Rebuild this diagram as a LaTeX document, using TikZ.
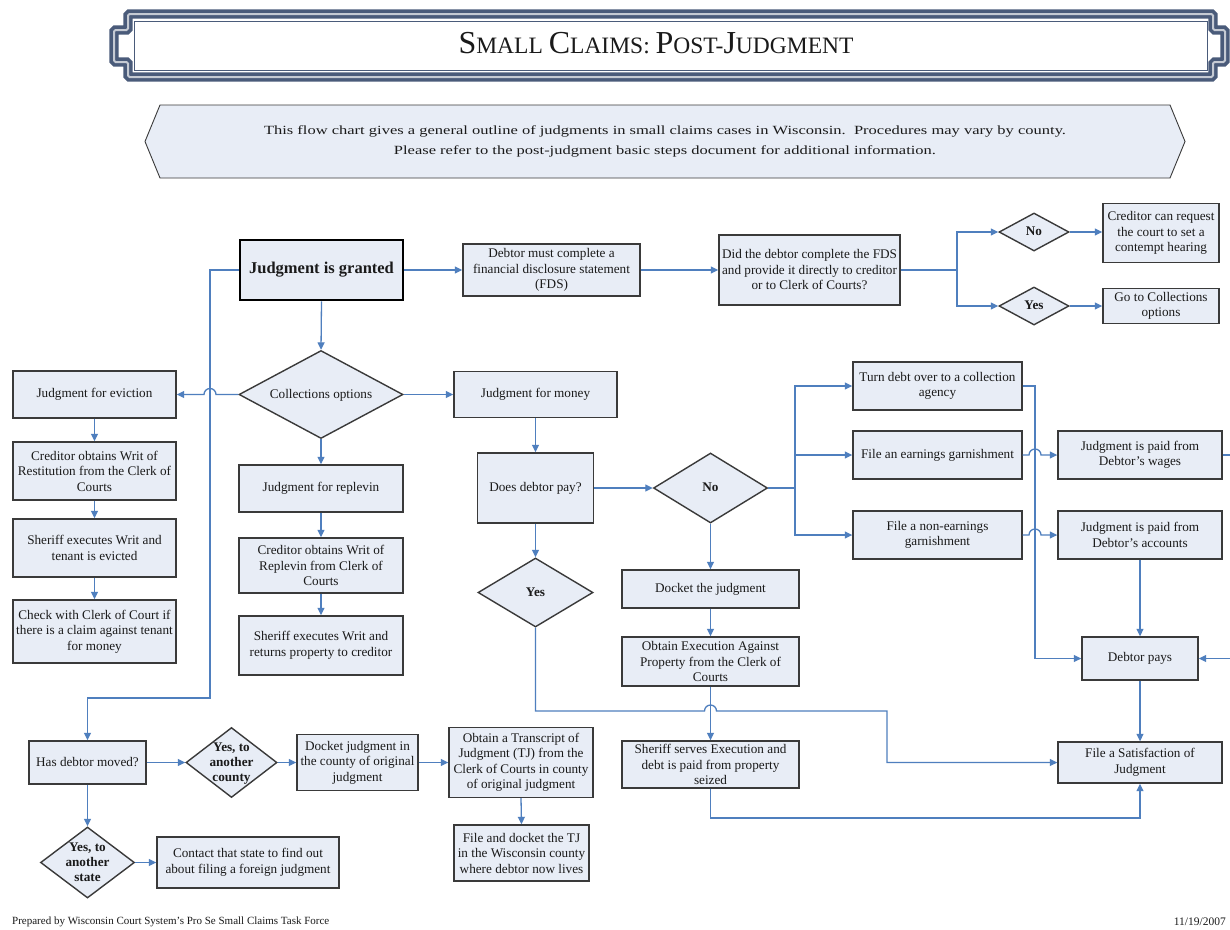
\documentclass[tikz,border=0pt]{standalone}
\usepackage{fontspec}
\setmainfont{Liberation Serif}
\usetikzlibrary{shapes.geometric,arrows.meta}
\definecolor{boxfill}{HTML}{E8EDF6}
\definecolor{boxline}{HTML}{3A3A3A}
\definecolor{connblue}{HTML}{4F7FBE}
\definecolor{framedark}{HTML}{4A5B7A}
\definecolor{framegray}{HTML}{C5CAD3}
\definecolor{txt}{HTML}{1A1A1A}
\newcommand\dtext[1]{\raisebox{-3.5pt}[0pt][0pt]{\makebox[0pt]{\begin{tabular}{@{}c@{}}#1\end{tabular}}}}
\newcommand\bigC[1]{{\fontsize{32}{34}\selectfont #1}}
\newcommand\smC[1]{{\fontsize{23.5}{26}\selectfont #1}}
\tikzset{
 box/.style={draw=boxline, line width=1.4pt, fill=boxfill, align=center, inner sep=1pt, text=txt,
   font=\fontsize{13.2}{15.5}\selectfont},
 dia/.style={diamond, draw=boxline, line width=1.4pt, fill=boxfill, inner sep=0pt, text=txt,
   font=\fontsize{13.2}{15}\selectfont},
 bdia/.style={dia, font=\fontsize{13.2}{15}\selectfont\bfseries},
 link/.style={draw=connblue, line width=1.3pt},
 arr/.style={link, -{Triangle[width=7pt,length=7.5pt]}},
}
\begin{document}
\begin{tikzpicture}[x=1pt,y=1pt]
\useasboundingbox (0,0) rectangle (1230,-929);
\fill[white] (0,0) rectangle (1230,-929);
% title frame
\draw[framedark, line width=3.6pt, double=framegray, double distance=2pt, rounded corners=1.5pt]
  (128,-14) -- (1213,-14) -- (1213,-30) -- (1225,-30) -- (1225,-62) -- (1213,-62) -- (1213,-77)
  -- (128,-77) -- (128,-62) -- (114,-62) -- (114,-30) -- (128,-30) -- cycle;
\draw[framedark, line width=0.8pt] (134,-21) rectangle (1207,-70);
\node[text=txt] (title) at (656,-43)
  {\bigC{S}\smC{MALL\ }\bigC{C}\smC{LAIMS:\ }\bigC{P}\smC{OST-}\bigC{J}\smC{UDGMENT}};
% intro banner
\draw[boxline, line width=0.9pt, fill=boxfill]
  (160,-105) -- (1170,-105) -- (1185,-141.5) -- (1170,-178) -- (160,-178) -- (145,-141.5) -- cycle;
\node[text=txt, align=center, font=\fontsize{12.5}{20}\selectfont] (intro) at (665,-141)
  {\scalebox{1.32}[1]{This flow chart gives a general outline of judgments in small claims cases in Wisconsin.\ \ Procedures may vary by county.}\\
   \scalebox{1.32}[1]{Please refer to the post-judgment basic steps document for additional information.}};
% top row
\node[box, line width=2.8pt, draw=black, minimum width=163pt, minimum height=60pt,
  font=\fontsize{16.5}{18}\selectfont\bfseries] (granted) at (321.5,-270) {Judgment is granted};
\node[box, minimum width=177pt, minimum height=52pt] (fds) at (551.5,-270)
  {Debtor must complete a\\financial disclosure statement\\(FDS)};
\node[box, minimum width=181pt, minimum height=70pt] (did) at (809.5,-270)
  {Did the debtor complete the FDS\\and provide it directly to creditor\\or to Clerk of Courts?};
\node[bdia, minimum width=70pt, minimum height=38pt] (fdsno) at (1034,-232) {\dtext{No}};
\node[bdia, minimum width=70pt, minimum height=38pt] (fdsyes) at (1034,-306) {\dtext{Yes}};
\node[box, minimum width=116pt, minimum height=59pt] (contempt) at (1161,-233)
  {Creditor can request\\the court to set a\\contempt hearing};
\node[box, minimum width=116pt, minimum height=35pt] (gocoll) at (1161,-306)
  {Go to Collections\\options};
% collections
\node[dia, minimum width=164pt, minimum height=88pt] (coll) at (321,-394.5) {\dtext{Collections options}};
\node[box, minimum width=163pt, minimum height=47pt] (eviction) at (94.5,-394.5) {Judgment for eviction};
\node[box, minimum width=163pt, minimum height=58pt] (writres) at (94.5,-471)
  {Creditor obtains Writ of\\Restitution from the Clerk of\\Courts};
\node[box, minimum width=163pt, minimum height=58pt] (sherev) at (94.5,-548)
  {Sheriff executes Writ and\\tenant is evicted};
\node[box, minimum width=163pt, minimum height=63pt] (check) at (94.5,-631.5)
  {Check with Clerk of Court if\\there is a claim against tenant\\for money};
\node[box, minimum width=164pt, minimum height=47pt] (replevin) at (321,-488.5) {Judgment for replevin};
\node[box, minimum width=164pt, minimum height=55pt] (writrep) at (321,-565.5)
  {Creditor obtains Writ of\\Replevin from Clerk of\\Courts};
\node[box, minimum width=164pt, minimum height=59pt] (sherrep) at (321,-645.5)
  {Sheriff executes Writ and\\returns property to creditor};
% money
\node[box, minimum width=163pt, minimum height=46pt] (money) at (535.5,-394.5) {Judgment for money};
\node[box, minimum width=116pt, minimum height=70pt] (doespay) at (535.5,-488) {Does debtor pay?};
\node[bdia, minimum width=114pt, minimum height=70pt] (payno) at (710.5,-488) {\dtext{No}};
\node[bdia, minimum width=115pt, minimum height=69pt] (payyes) at (535.5,-592.5) {\dtext{Yes}};
\node[box, minimum width=177pt, minimum height=38pt] (docket) at (710.5,-589) {Docket the judgment};
\node[box, minimum width=177pt, minimum height=49pt] (obtain) at (710.5,-661.5)
  {Obtain Execution Against\\Property from the Clerk of\\Courts};
\node[box, minimum width=177pt, minimum height=47pt] (sherserve) at (710.5,-764.5)
  {Sheriff serves Execution and\\debt is paid from property\\seized};
% right side
\node[box, minimum width=169pt, minimum height=48pt] (turn) at (937.5,-386)
  {Turn debt over to a collection\\agency};
\node[box, minimum width=169pt, minimum height=48pt] (earn) at (937.5,-455)
  {File an earnings garnishment};
\node[box, minimum width=169pt, minimum height=48pt] (nonearn) at (937.5,-535)
  {File a non-earnings\\garnishment};
\node[box, minimum width=164pt, minimum height=48pt] (wages) at (1140,-455)
  {Judgment is paid from\\Debtor’s wages};
\node[box, minimum width=164pt, minimum height=48pt] (accounts) at (1140,-535)
  {Judgment is paid from\\Debtor’s accounts};
\node[box, minimum width=116pt, minimum height=43pt] (debtpays) at (1140,-658.5) {Debtor pays};
\node[box, minimum width=164pt, minimum height=41pt] (satisf) at (1140,-762.5)
  {File a Satisfaction of\\Judgment};
% bottom
\node[box, minimum width=117pt, minimum height=43pt] (hasmoved) at (87.5,-762.5) {Has debtor moved?};
\node[bdia, minimum width=91pt, minimum height=70pt] (ctydia) at (231.5,-762.5) {\dtext{Yes, to\\another\\county}};
\node[box, minimum width=121pt, minimum height=56pt] (dockcty) at (357.5,-762.5)
  {Docket judgment in\\the county of original\\judgment};
\node[box, minimum width=144pt, minimum height=70pt] (transcript) at (521,-762.5)
  {Obtain a Transcript of\\Judgment (TJ) from the\\Clerk of Courts in county\\of original judgment};
\node[box, minimum width=135pt, minimum height=56pt] (filetj) at (521.5,-853)
  {File and docket the TJ\\in the Wisconsin county\\where debtor now lives};
\node[bdia, minimum width=94pt, minimum height=71pt] (statedia) at (87.5,-862.5) {\dtext{Yes, to\\another\\state}};
\node[box, minimum width=182pt, minimum height=51pt] (contact) at (248,-862.5)
  {Contact that state to find out\\about filing a foreign judgment};
% footer
\node[anchor=west, text=txt, font=\fontsize{11}{12}\selectfont, inner sep=0pt] (prep) at (12,-922)
  {Prepared by Wisconsin Court System’s Pro Se Small Claims Task Force};
\node[anchor=east, text=txt, font=\fontsize{11.5}{12}\selectfont, inner sep=0pt] (date) at (1226,-922) {11/19/2007};
% connectors top
\draw[arr] (granted.east) -- (fds.west);
\draw[arr] (fds.east) -- (did.west);
\coordinate (j1) at (957,-270);
\draw[link] (did.east) -- (j1);
\draw[arr] (j1) |- (fdsno.west);
\draw[arr] (j1) |- (fdsyes.west);
\draw[arr] (fdsno.east) -- (contempt.west |- fdsno.east);
\draw[arr] (fdsyes.east) -- (gocoll.west);
\draw[arr] (granted.south) -- (coll.north);
\draw[arr] (granted.west) -- (210,-270) -- (210,-698) -- (87.5,-698) -- (hasmoved.north);
% collections
\draw[arr] (coll.west) -- (216,-394.5) arc[start angle=0,end angle=180,radius=6] -- (eviction.east);
\draw[arr] (coll.east) -- (money.west);
\draw[arr] (coll.south) -- (replevin.north);
\draw[arr] (eviction.south) -- (writres.north);
\draw[arr] (writres.south) -- (sherev.north);
\draw[arr] (sherev.south) -- (check.north);
\draw[arr] (replevin.south) -- (writrep.north);
\draw[arr] (writrep.south) -- (sherrep.north);
% money
\draw[arr] (money.south) -- (doespay.north);
\draw[arr] (doespay.east) -- (payno.west);
\draw[arr] (doespay.south) -- (payyes.north);
\coordinate (j2) at (795,-488);
\draw[link] (payno.east) -- (j2);
\draw[arr] (j2) |- (turn.west);
\draw[arr] (j2) |- (earn.west);
\draw[arr] (j2) |- (nonearn.west);
\draw[arr] (turn.east) -- (1035,-386) |- (debtpays.west);
\draw[arr] (earn.east) -- (1029,-455) arc[start angle=180,end angle=0,radius=6] -- (wages.west);
\draw[arr] (nonearn.east) -- (1029,-535) arc[start angle=180,end angle=0,radius=6] -- (accounts.west);
\draw[arr] (accounts.south) -- (debtpays.north);
\draw[arr] (wages.east) -- (1240,-455) |- (debtpays.east);
\draw[arr] (debtpays.south) -- (satisf.north);
\draw[arr] (payno.south) -- (docket.north);
\draw[arr] (docket.south) -- (obtain.north);
\draw[arr] (obtain.south) -- (sherserve.north);
\draw[arr] (payyes.south) -- (535.5,-711) -- (704.5,-711) arc[start angle=180,end angle=0,radius=6]
  -- (887,-711) |- (satisf.west);
\draw[arr] (sherserve.south) -- (710.5,-818) -| (satisf.south);
% bottom
\draw[arr] (hasmoved.east) -- (ctydia.west);
\draw[arr] (ctydia.east) -- (dockcty.west);
\draw[arr] (dockcty.east) -- (transcript.west);
\draw[arr] (transcript.south) -- (filetj.north);
\draw[arr] (hasmoved.south) -- (statedia.north);
\draw[arr] (statedia.east) -- (contact.west);
\end{tikzpicture}
\end{document}
